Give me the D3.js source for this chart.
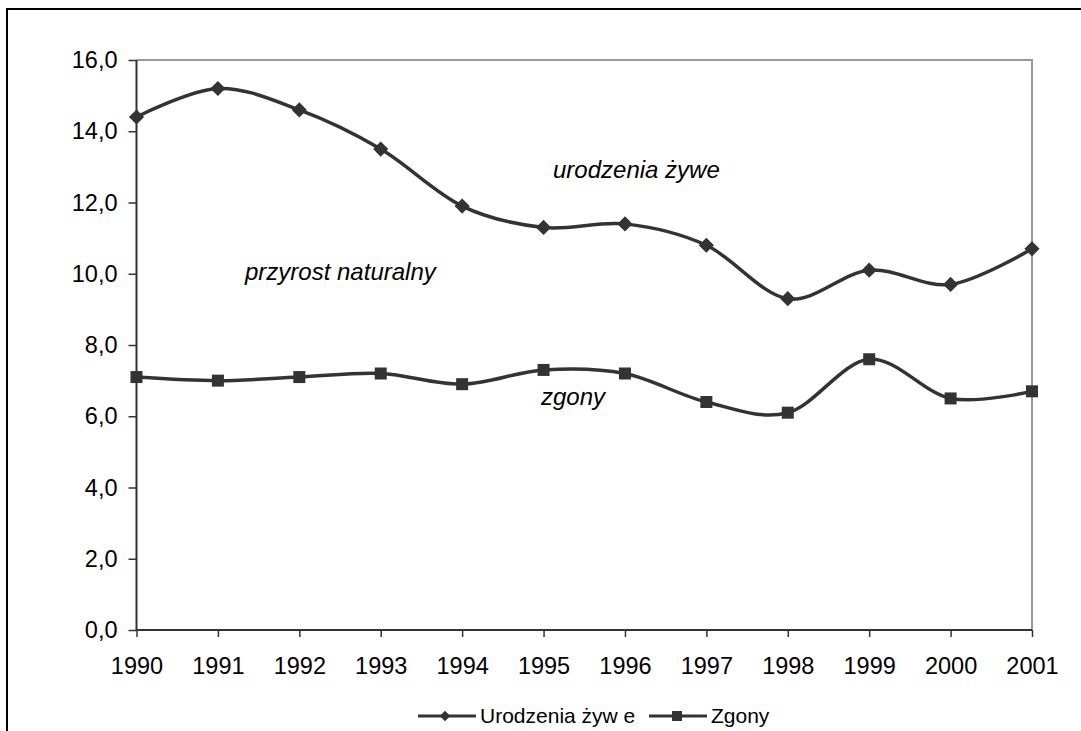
<!DOCTYPE html>
<html lang="pl">
<head>
    <meta charset="UTF-8">
    <title>Urodzenia i zgony 1990-2001</title>
    <script src="https://cdnjs.cloudflare.com/ajax/libs/d3/7.8.5/d3.min.js"></script>
    <style>
        body { margin: 0; background: #fff; }
        text { font-family: Arial, "Liberation Sans", sans-serif; fill: #000; }
    </style>
</head>
<body>
<script>

    // dane (na 1000 ludności)
    var years = [1990, 1991, 1992, 1993, 1994, 1995, 1996, 1997, 1998, 1999, 2000, 2001]
    var urodzenia = [14.4, 15.2, 14.6, 13.5, 11.9, 11.3, 11.4, 10.8, 9.3, 10.1, 9.7, 10.7]
    var zgony = [7.1, 7.0, 7.1, 7.2, 6.9, 7.3, 7.2, 6.4, 6.1, 7.6, 6.5, 6.7]
    var yTicks = [0, 2, 4, 6, 8, 10, 12, 14, 16]
    var seriesNames = ["Urodzenia żyw e", "Zgony"]

    var width = 1081
    var height = 731
    var plot = { left: 136.5, right: 1032, top: 60, bottom: 630 }
    var lineColor = "#333333"

    var svg = d3.select("body")
        .append("svg")
        .attr("width", width)
        .attr("height", height)

    // ramka całego wykresu (wychodzi poza obraz z prawej i z dołu)
    svg.append("rect")
        .attr("x", 7).attr("y", 9)
        .attr("width", 1200).attr("height", 900)
        .attr("fill", "#fff")
        .attr("stroke", "#000")
        .attr("stroke-width", 2)

    var x = d3.scalePoint().domain(years).range([plot.left, plot.right])
    var y = d3.scaleLinear().domain([0, 16]).range([plot.bottom, plot.top])

    // górna i prawa krawędź obszaru wykresu
    svg.append("path")
        .attr("d", "M" + plot.left + "," + plot.top + "H" + plot.right + "V" + plot.bottom)
        .attr("fill", "none")
        .attr("stroke", "#999")
        .attr("stroke-width", 2)

    var yAxis = svg.append("g")
        .attr("transform", "translate(" + plot.left + ",0)")
        .call(d3.axisLeft(y)
            .tickValues(yTicks)
            .tickSize(8)
            .tickPadding(11)
            .tickFormat(function(d) { return d.toFixed(1).replace(".", ",") }))

    var xAxis = svg.append("g")
        .attr("transform", "translate(0," + plot.bottom + ")")
        .call(d3.axisBottom(x).tickSize(7).tickPadding(20).tickFormat(d3.format("d")))

    svg.selectAll(".domain").attr("stroke", lineColor).attr("stroke-width", 2)
    svg.selectAll(".tick line").attr("stroke", lineColor).attr("stroke-width", 1.5)
    svg.selectAll(".tick text").attr("font-size", 23.5).attr("fill", "#000")
        .attr("font-family", "Arial, 'Liberation Sans', sans-serif")
    // zakończenie osi bez wystających znaczników
    xAxis.select(".domain").attr("d", "M" + plot.left + ",0H" + plot.right)
    yAxis.select(".domain").attr("d", "M0," + plot.bottom + "V" + plot.top)

    var line = d3.line()
        .x(function(d, i) { return x(years[i]) })
        .y(function(d) { return y(d) })
        .curve(d3.curveCardinal.tension(0))

    svg.append("path")
        .datum(urodzenia)
        .attr("d", line)
        .attr("fill", "none")
        .attr("stroke", lineColor)
        .attr("stroke-width", 3.5)

    svg.append("path")
        .datum(zgony)
        .attr("d", line)
        .attr("fill", "none")
        .attr("stroke", lineColor)
        .attr("stroke-width", 3.5)

    var diamond = d3.symbol().type(d3.symbolSquare).size(115)

    svg.selectAll(".diamond")
        .data(urodzenia)
        .enter()
        .append("path")
        .attr("class", "diamond")
        .attr("d", diamond)
        .attr("transform", function(d, i) { return "translate(" + x(years[i]) + "," + y(d) + ") rotate(45)" })
        .attr("fill", lineColor)

    svg.selectAll(".square")
        .data(zgony)
        .enter()
        .append("rect")
        .attr("class", "square")
        .attr("x", function(d, i) { return x(years[i]) - 6 })
        .attr("y", function(d) { return y(d) - 6 })
        .attr("width", 12)
        .attr("height", 12)
        .attr("fill", lineColor)

    // podpisy na wykresie
    var labels = [
        { text: "urodzenia żywe", x: 553, y: 178 },
        { text: "przyrost naturalny", x: 245, y: 280 },
        { text: "zgony", x: 541, y: 405 }
    ]
    svg.selectAll(".note")
        .data(labels)
        .enter()
        .append("text")
        .attr("class", "note")
        .attr("x", function(d) { return d.x })
        .attr("y", function(d) { return d.y })
        .attr("font-size", 24)
        .attr("font-style", "italic")
        .text(function(d) { return d.text })

    // legenda
    var legendY = 716
    var legendX = [418, 649]
    var lg = svg.selectAll(".legend")
        .data(seriesNames)
        .enter()
        .append("g")
        .attr("class", "legend")
        .attr("transform", function(d, i) { return "translate(" + legendX[i] + "," + legendY + ")" })

    lg.append("line")
        .attr("x1", 0).attr("x2", 58)
        .attr("stroke", lineColor)
        .attr("stroke-width", 3)

    lg.filter(function(d, i) { return i == 0 })
        .append("path")
        .attr("d", d3.symbol().type(d3.symbolSquare).size(55))
        .attr("transform", "translate(27,0) rotate(45)")
        .attr("fill", lineColor)

    lg.filter(function(d, i) { return i == 1 })
        .append("rect")
        .attr("x", 23).attr("y", -5)
        .attr("width", 10).attr("height", 10)
        .attr("fill", lineColor)

    lg.append("text")
        .attr("x", 62)
        .attr("dy", "0.35em")
        .attr("font-size", 21)
        .text(function(d) { return d })

</script>
</body>
</html>
